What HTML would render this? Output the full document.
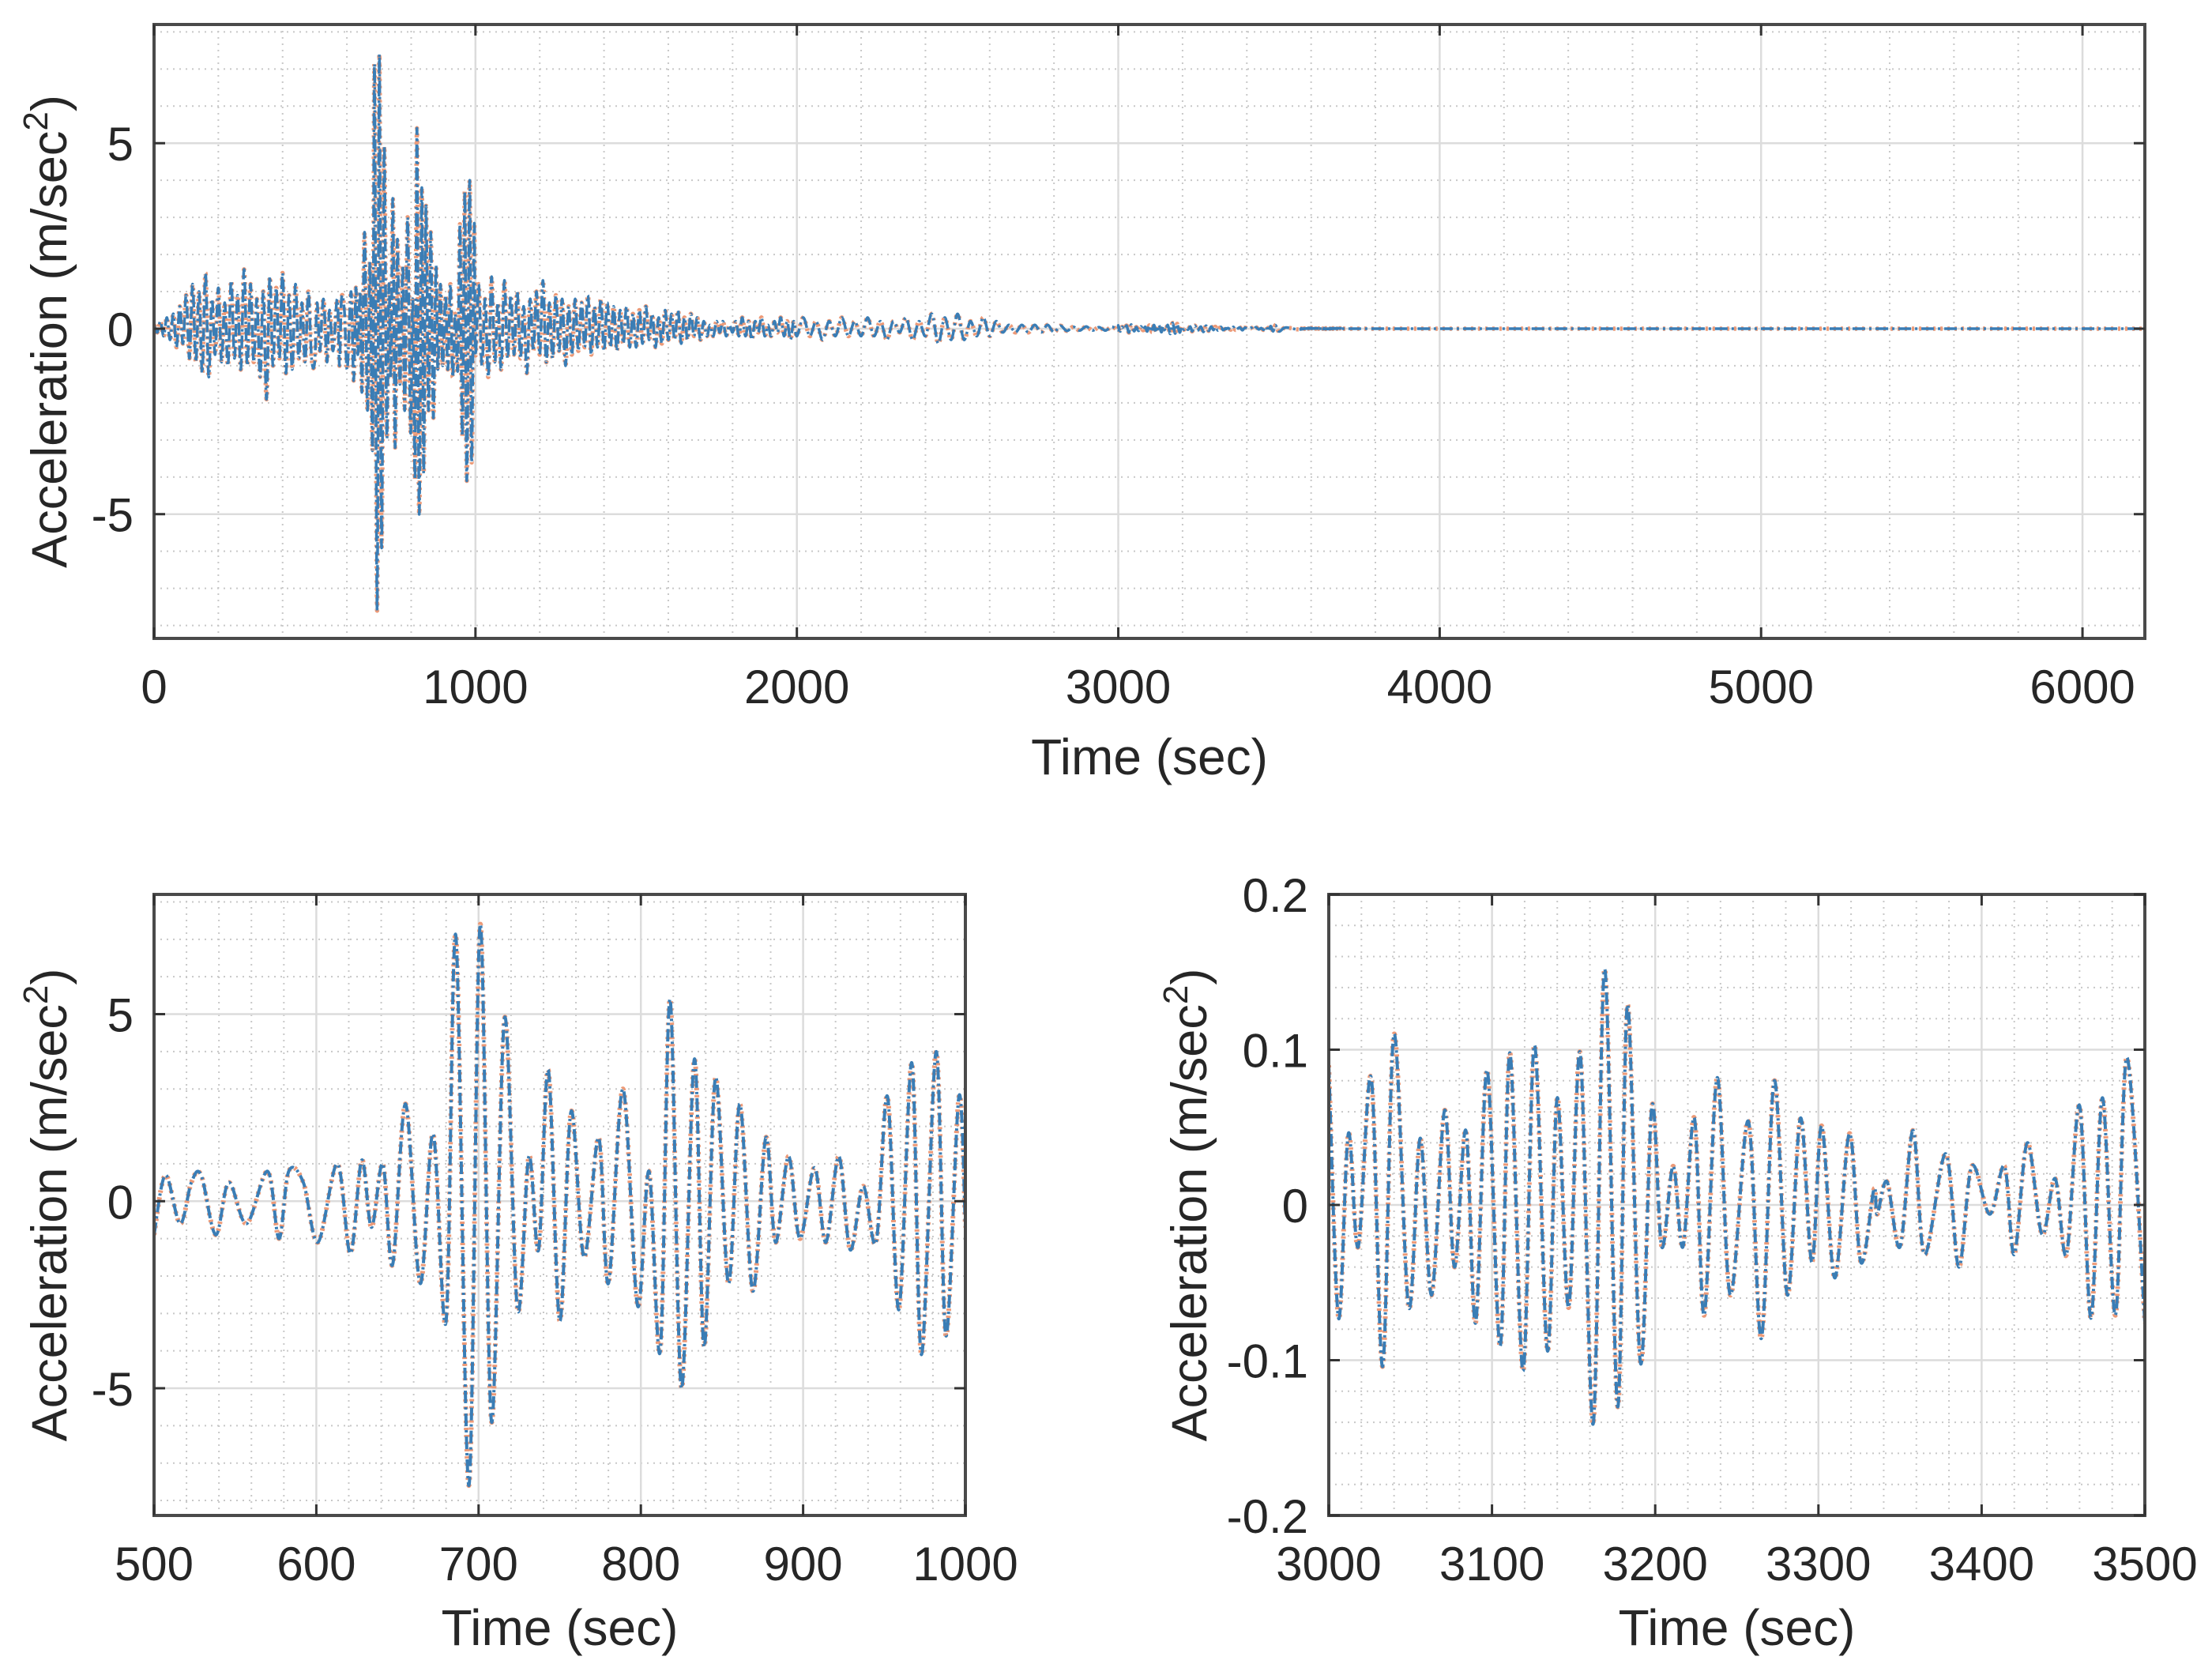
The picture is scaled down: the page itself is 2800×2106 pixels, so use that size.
<!DOCTYPE html>
<html><head><meta charset="utf-8"><style>
html,body{margin:0;padding:0;background:#fff;}
svg{display:block;font-family:"Liberation Sans",Arial,sans-serif;}
</style></head><body>
<svg id="fig" width="2800" height="2106" viewBox="0 0 2800 2106" xmlns="http://www.w3.org/2000/svg"></svg>
<script>
// ---- data ----
const seg0Times = [0,10,20,30,40,50,60,70,80,90,100,110,120,130,140,150,160,170,180,190,200,210,220,230,240,250,260,270,280,290,300,310,320,330,340,350,360,370,380,390,400,410,420,430,440,450,460,470,480,490];
const seg0Vals = [0.1,-0.1,0.2,-0.2,0.3,-0.3,0.4,-0.5,0.6,-0.4,0.9,-0.8,1.2,-0.9,1.0,-1.2,1.5,-1.3,0.8,-0.7,1.1,-0.9,0.7,-1.0,1.3,-0.8,0.9,-1.1,1.6,-1.0,1.2,-0.9,0.8,-1.3,1.0,-1.9,1.4,-1.0,1.1,-0.8,1.5,-1.2,0.9,-1.1,1.2,-0.8,0.7,-0.9,1.0,-0.8];
const zoomATimes = [500,507,516,523,529,538,546,557,570,577,583,592,601,613,621,628,634,641,647,655,664,672,680,686,694,701,708,716,724,731,737,743,750,757,765,774,780,789,798,805,812,818,825,833,839,846,854,861,869,877,883,891,898,907,914,922,929,937,945,952,959,967,973,982,988,996,1000];
const zoomAVals = [-0.9,0.7,-0.6,0.5,0.7,-0.9,0.5,-0.6,0.8,-1.0,0.8,0.5,-1.1,1.0,-1.4,1.1,-0.7,1.0,-1.7,2.6,-2.2,1.8,-3.2,7.1,-7.6,7.4,-5.9,4.9,-2.9,1.2,-1.3,3.5,-3.2,2.4,-1.5,1.7,-2.2,3.0,-2.8,0.8,-4.0,5.4,-5.0,3.8,-3.9,3.3,-2.2,2.6,-2.4,1.7,-1.1,1.2,-1.0,0.9,-1.1,1.2,-1.3,0.4,-1.1,2.8,-2.9,3.7,-4.1,4.0,-3.6,2.8,-0.7];
const seg1Vals = [1.2,-1.0,0.8,-1.3,1.4,-0.9,0.7,-1.1,1.3,-0.8, 0.9,-0.7,1.0,-0.8,0.6,-1.2,0.8,-0.6,1.0,-0.7, 1.3,-0.9,0.7,-0.8,0.9,-0.6,0.8,-1.0,0.6,-0.7, 0.8,-0.6,0.7,-0.5,0.9,-0.7,0.6,-0.5,0.8,-0.6, 0.7,-0.5,0.6,-0.6,0.5,-0.4,0.6,-0.5,0.4,-0.5, 0.5,-0.4,0.6,-0.3,0.4,-0.5,0.3,-0.4,0.5,-0.3, 0.4,-0.3,0.5,-0.4,0.3,-0.3,0.4,-0.2,0.3,-0.3, 0.2,-0.2,0.1,-0.2,0.2,-0.1,0.2,-0.2,0.1,-0.1, 0.2,-0.2,0.3,-0.2,0.2,-0.3,0.2,-0.1,0.3,-0.2, 0.1,-0.2,0.2,-0.1,0.3,-0.2,0.2,-0.3,0.2,-0.2];
const seg1Start = 1010, seg1Step = 10;
const seg2Vals = [0.3,-0.2,0.2,-0.3,0.2,-0.2,0.3,-0.2,0.2,-0.2, 0.3,-0.2,0.2,-0.3,0.2,-0.1,0.3,-0.3,0.2,-0.2, 0.4,-0.4,0.3,-0.3,0.4,-0.3,0.2,-0.2,0.3,-0.2, 0.2,-0.1,0.1,-0.1,0.1,-0.1,0.1,-0.1,0.1,-0.1, 0.08,-0.06,0.05,-0.05,0.06,-0.05,0.04,-0.05,0.05,-0.04];
const seg2Start = 2020, seg2Step = 20;
const zoomBTimes = [3000,3006,3012,3018,3026,3033,3040,3049,3056,3063,3071,3077,3084,3090,3097,3105,3111,3119,3126,3134,3140,3147,3154,3162,3169,3177,3183,3191,3198,3204,3211,3217,3224,3230,3238,3246,3257,3265,3273,3281,3289,3296,3302,3310,3319,3326,3334,3336,3342,3350,3358,3365,3378,3386,3394,3405,3414,3420,3428,3437,3445,3452,3460,3467,3474,3482,3489,3500];
const zoomBVals = [0.09,-0.073,0.046,-0.027,0.082,-0.104,0.11,-0.066,0.043,-0.058,0.061,-0.04,0.048,-0.076,0.087,-0.091,0.098,-0.107,0.103,-0.094,0.069,-0.066,0.098,-0.141,0.152,-0.13,0.129,-0.102,0.064,-0.027,0.025,-0.027,0.056,-0.071,0.082,-0.058,0.054,-0.086,0.08,-0.058,0.056,-0.037,0.051,-0.047,0.046,-0.037,0.01,-0.006,0.015,-0.027,0.048,-0.032,0.033,-0.04,0.025,-0.006,0.025,-0.032,0.04,-0.019,0.017,-0.032,0.064,-0.073,0.069,-0.071,0.095,-0.076];
const tailTimes = [3520,3560,3600,3640,3700,3760,6194];
const tailVals = [0.03,-0.02,0.02,-0.01,0.01,0,0];
const topXTicks = [0,1000,2000,3000,4000,5000,6000];
const aYTicks = [-5,0,5];
const blXTicks = [500,600,700,800,900,1000];
const brXTicks = [3000,3100,3200,3300,3400,3500];
const brYTicks = [-0.2,-0.1,0,0.1,0.2];

const NS='http://www.w3.org/2000/svg';
const svg=document.getElementById('fig');
function mk(tag,attrs,parent){const e=document.createElementNS(NS,tag);for(const k in attrs)e.setAttribute(k,attrs[k]);(parent||svg).appendChild(e);return e;}

function smoothPath(P){
  if(P.length<2)return '';
  let d='M'+P[0][0].toFixed(1)+','+P[0][1].toFixed(1);
  for(let i=0;i<P.length-1;i++){
    const p0=P[Math.max(0,i-1)],p1=P[i],p2=P[i+1],p3=P[Math.min(P.length-1,i+2)];
    const c1x=p1[0]+(p2[0]-p0[0])/6, c1y=p1[1]+(p2[1]-p0[1])/6;
    const c2x=p2[0]-(p3[0]-p1[0])/6, c2y=p2[1]-(p3[1]-p1[1])/6;
    d+=' C'+c1x.toFixed(1)+','+c1y.toFixed(1)+' '+c2x.toFixed(1)+','+c2y.toFixed(1)+' '+p2[0].toFixed(1)+','+p2[1].toFixed(1);
  }
  return d;
}

function axes(o){
  const g=mk('g',{});
  
  
  const sx=v=>o.x0+(v-o.xmin)/(o.xmax-o.xmin)*(o.x1-o.x0);
  const sy=v=>o.y1-(v-o.ymin)/(o.ymax-o.ymin)*(o.y1-o.y0);
  const mg=mk('g',{stroke:'#c8c8c8','stroke-width':2,'stroke-dasharray':'2 6'},g);
  
  
  for(let v=Math.ceil(o.xmin/o.xminor)*o.xminor;v<=o.xmax+1e-9;v+=o.xminor){const X=sx(v);mk('line',{x1:X,x2:X,y1:o.y0,y2:o.y1},mg);}
  for(let k=Math.ceil(o.ymin/o.yminor);k*o.yminor<=o.ymax+1e-9;k++){const Y=sy(k*o.yminor);mk('line',{x1:o.x0,x2:o.x1,y1:Y,y2:Y},mg);}
  const Mg=mk('g',{stroke:'#dcdcdc','stroke-width':2.5},g);
  
  
  o.xt.forEach(v=>{const X=sx(v);mk('line',{x1:X,x2:X,y1:o.y0,y2:o.y1},Mg);});
  o.yt.forEach(v=>{const Y=sy(v);mk('line',{x1:o.x0,x2:o.x1,y1:Y,y2:Y},Mg);});
  const P=o.t.map((t,i)=>[sx(t),sy(o.v[i])]);
  const d=smoothPath(P);
  const clip='c'+o.name;
  const cp=mk('clipPath',{id:clip},g);mk('rect',{x:o.x0,y:o.y0,width:o.x1-o.x0,height:o.y1-o.y0},cp);
  const s1=mk('path',{d:d,fill:'none',stroke:'#ec9a78','stroke-width':o.sw+2,'stroke-dasharray':'3 6','clip-path':'url(#'+clip+')'},g);
  
  
  const s2=mk('path',{d:d,fill:'none',stroke:'#3a7db5','stroke-width':o.sw,'stroke-dasharray':'16 5 3 5','clip-path':'url(#'+clip+')'},g);
  
  
  const bx=mk('rect',{x:o.x0,y:o.y0,width:o.x1-o.x0,height:o.y1-o.y0,fill:'none',stroke:'#4a4a4a','stroke-width':4},g);
  
  
  o.xt.forEach(v=>{const X=sx(v);
    mk('line',{x1:X,x2:X,y1:o.y1,y2:o.y1-14,stroke:'#333','stroke-width':3},g);
    mk('line',{x1:X,x2:X,y1:o.y0,y2:o.y0+14,stroke:'#333','stroke-width':3},g);
    const t=mk('text',{x:X,y:o.y1+82,'font-size':60,'text-anchor':'middle',fill:'#262626'},g);t.textContent=String(v);
    
    });
  o.yt.forEach(v=>{const Y=sy(v);
    mk('line',{x1:o.x0,x2:o.x0+14,y1:Y,y2:Y,stroke:'#333','stroke-width':3},g);
    mk('line',{x1:o.x1,x2:o.x1-14,y1:Y,y2:Y,stroke:'#333','stroke-width':3},g);
    const t=mk('text',{x:o.x0-26,y:Y+22,'font-size':60,'text-anchor':'end',fill:'#262626'},g);t.textContent=String(v);
    
    });
  const xl=mk('text',{x:(o.x0+o.x1)/2,y:o.xly,'font-size':64,'text-anchor':'middle',fill:'#262626'},g);
  xl.textContent='Time (sec)';
  
  
  const yc=(o.y0+o.y1)/2;
  const yl=mk('text',{x:o.ylx,y:yc,'font-size':63,'text-anchor':'middle',fill:'#262626',transform:'rotate(-90 '+o.ylx+' '+yc+')'},g);
  yl.innerHTML='Acceleration (m/sec<tspan dy="-24" font-size="44">2</tspan><tspan dy="24">)</tspan>';
  
  
}

const fullT=[],fullV=[];
seg0Times.forEach((t,i)=>{fullT.push(t);fullV.push(seg0Vals[i]);});
zoomATimes.forEach((t,i)=>{fullT.push(t);fullV.push(zoomAVals[i]);});
seg1Vals.forEach((v,i)=>{fullT.push(seg1Start+i*seg1Step);fullV.push(v);});
seg2Vals.forEach((v,i)=>{fullT.push(seg2Start+i*seg2Step);fullV.push(v);});
zoomBTimes.forEach((t,i)=>{fullT.push(t);fullV.push(zoomBVals[i]);});
tailTimes.forEach((t,i)=>{fullT.push(t);fullV.push(tailVals[i]);});

axes({name:'top-chart',x0:195,x1:2715,y0:31,y1:808,xmin:0,xmax:6194,ymin:-8.35,ymax:8.2,xminor:200,yminor:1,xt:topXTicks,yt:aYTicks,t:fullT,v:fullV,xly:980,ylx:84,sw:3.5});
axes({name:'bottom-left-chart',x0:195,x1:1222,y0:1132,y1:1918,xmin:500,xmax:1000,ymin:-8.4,ymax:8.2,xminor:20,yminor:1,xt:blXTicks,yt:aYTicks,t:zoomATimes,v:zoomAVals,xly:2082,ylx:84,sw:4});
axes({name:'bottom-right-chart',x0:1682,x1:2715,y0:1132,y1:1918,xmin:3000,xmax:3500,ymin:-0.2,ymax:0.2,xminor:20,yminor:0.02,xt:brXTicks,yt:brYTicks,t:zoomBTimes,v:zoomBVals,xly:2082,ylx:1527,sw:4});
</script>
</body></html>
